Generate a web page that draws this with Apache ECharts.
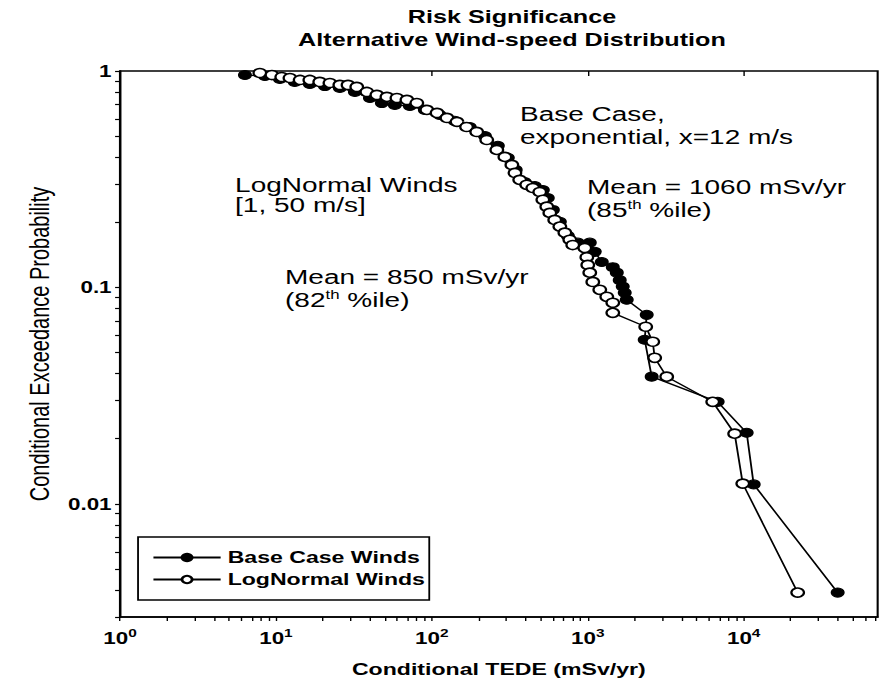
<!DOCTYPE html>
<html>
<head>
<meta charset="utf-8">
<script src="https://cdn.jsdelivr.net/npm/echarts@6/dist/echarts.min.js"></script>
<style>
  html, body { margin: 0; padding: 0; background: #fff; overflow: hidden; }
  /* the plot is laid out narrow and widened, giving the broad lettering and oval markers */
  #chart { width: 629.3px; height: 684px; transform: scaleX(1.4); transform-origin: 0 0; }
</style>
</head>
<body>
<div id="chart"></div>
<script>
// Conditional TEDE (mSv/yr) and exceedance probability, base-case exponential winds
const baseDose = [6.33, 8.5, 10.6, 13.2, 16.5, 20.6, 25.7, 32.1, 40.1, 47.8, 57.9, 72.3, 90.2, 112, 140, 175, 219, 265, 307, 345, 394, 457, 515, 554, 597, 662, 745, 863, 1030, 1109, 1230, 1447, 1535, 1603, 1676, 1726, 1778, 2388, 2318, 2570, 6808, 10450, 11590, 40060];
const baseProb = [0.958, 0.948, 0.919, 0.890, 0.871, 0.852, 0.835, 0.800, 0.750, 0.711, 0.697, 0.689, 0.661, 0.627, 0.588, 0.551, 0.501, 0.451, 0.397, 0.349, 0.307, 0.294, 0.282, 0.259, 0.228, 0.201, 0.173, 0.161, 0.161, 0.146, 0.131, 0.124, 0.117, 0.108, 0.101, 0.0944, 0.0877, 0.0747, 0.0573, 0.0387, 0.0296, 0.0213, 0.0123, 0.00389];

// Same quantities for lognormal winds on [1, 50 m/s]
const lognDose = [7.89, 9.43, 10.9, 12.3, 14.3, 16.5, 19.1, 22.2, 25.7, 29.0, 33.0, 38.3, 44.4, 51.5, 59.7, 69.2, 80.1, 92.9, 108, 125, 145, 167, 194, 225, 261, 294, 326, 341, 366, 406, 444, 492, 515, 546, 571, 614, 662, 713, 767, 801, 957, 986, 1000, 1030, 1077, 1194, 1324, 1447, 1447, 2353, 2611, 2687, 3208, 6328, 8750, 9862, 22190];
const lognProb = [0.979, 0.958, 0.938, 0.928, 0.909, 0.909, 0.890, 0.880, 0.862, 0.862, 0.844, 0.800, 0.775, 0.759, 0.750, 0.735, 0.711, 0.661, 0.640, 0.607, 0.582, 0.551, 0.523, 0.480, 0.432, 0.401, 0.368, 0.338, 0.314, 0.298, 0.288, 0.276, 0.254, 0.236, 0.221, 0.205, 0.191, 0.179, 0.166, 0.157, 0.152, 0.138, 0.127, 0.117, 0.106, 0.0975, 0.0905, 0.0849, 0.0763, 0.0658, 0.0561, 0.0473, 0.0387, 0.0296, 0.0211, 0.0124, 0.00389];

const seriesNames = ['Base Case Winds', 'LogNormal Winds'];

// Axis ticks and labels
const xMajor = [1, 10, 100, 1000, 10000];
const xExponents = ['0', '1', '2', '3', '4'];
const yMajor = [1, 0.1, 0.01];
const yLabels = ['1', '0.1', '0.01'];
const xMax = 72300;
const yMin = 0.003;

// Minor tick positions (2..9 within each decade)
const xMinor = [];
for (let d = 1; d <= 10000; d *= 10) {
  for (let k = 2; k <= 9; k++) if (k * d < xMax) xMinor.push(k * d);
}
const yMinor = [];
for (let d = 0.1; d >= 0.001; d /= 10) {
  for (let k = 9; k >= 2; k--) if (k * d >= yMin * 0.999) yMinor.push(+(k * d).toPrecision(3));
}

const FONT = 'Liberation Sans, Arial, Helvetica, sans-serif';
const pair = (xs, ys) => xs.map((x, i) => [x, ys[i]]);
const idxOf = (arr, v) => arr.findIndex(m => Math.abs(Math.log10(m) - Math.log10(v)) < 1e-6);

const chart = echarts.init(document.getElementById('chart'), null, { renderer: 'svg' });

const sup = { s: { fontSize: 12, fontFamily: FONT, verticalAlign: 'bottom', lineHeight: 12, padding: [0, 0, 9, 0] } };
const note = (text, x, y, rich) => ({
  type: 'text', x, y, z: 50,
  style: {
    text, fill: '#000', fontFamily: FONT, fontSize: 20, fontWeight: 'normal',
    align: 'left', verticalAlign: 'middle', rich: rich || {}
  }
});
const heading = (text, y) => ({
  type: 'text', x: 365.7, y, z: 50,
  style: { text, fill: '#000', fontFamily: FONT, fontSize: 18, fontWeight: 'bold', align: 'center', verticalAlign: 'middle' }
});

chart.setOption({
  animation: false,
  backgroundColor: '#fff',
  grid: {
    left: 85.7, right: 2.1, top: 71, bottom: 67,
    show: true, borderColor: '#000', borderWidth: 1.5, backgroundColor: 'transparent'
  },
  xAxis: [{
    type: 'log', logBase: 10, min: 1, max: xMax, position: 'bottom',
    axisLine: { show: true, lineStyle: { color: '#000', width: 1.5 } },
    axisTick: { show: true, customValues: xMajor.concat(xMinor), length: 4, inside: false, lineStyle: { color: '#000', width: 1 } },
    axisLabel: {
      customValues: xMajor, margin: 13,
      formatter: v => {
        const i = idxOf(xMajor, v);
        return i < 0 ? '' : '10{s|' + xExponents[i] + '}';
      },
      color: '#000', fontFamily: FONT, fontWeight: 'bold', fontSize: 16,
      rich: { s: { fontSize: 11, fontWeight: 'bold', fontFamily: FONT, verticalAlign: 'bottom', lineHeight: 11, padding: [0, 0, 7, 0] } }
    },
    splitLine: { show: false },
    name: 'Conditional TEDE (mSv/yr)', nameLocation: 'middle', nameGap: 44,
    nameTextStyle: { color: '#000', fontFamily: FONT, fontWeight: 'bold', fontSize: 16.5 }
  }, {
    type: 'log', logBase: 10, min: 1, max: xMax, position: 'top',
    axisLine: { show: false },
    axisTick: { show: true, customValues: xMajor.slice(1), length: 5, inside: true, lineStyle: { color: '#000', width: 1 } },
    axisLabel: { show: false }, splitLine: { show: false }
  }],
  yAxis: [{
    type: 'log', logBase: 10, min: yMin, max: 1, position: 'left',
    axisLine: { show: true, lineStyle: { color: '#000', width: 1.5 } },
    axisTick: { show: true, customValues: yMajor.concat(yMinor), length: 3.5, inside: false, lineStyle: { color: '#000', width: 1.2 } },
    axisLabel: {
      customValues: yMajor, margin: 6,
      formatter: v => {
        const i = idxOf(yMajor, v);
        return i < 0 ? '' : yLabels[i];
      },
      color: '#000', fontFamily: FONT, fontWeight: 'bold', fontSize: 16
    },
    splitLine: { show: false },
    name: 'Conditional Exceedance Probability', nameLocation: 'middle', nameGap: 43, nameRotate: 90,
    nameTextStyle: { color: '#000', fontFamily: FONT, fontSize: 20 }
  }],
  legend: {
    orient: 'vertical', left: 98.6, top: 537,
    data: seriesNames,
    backgroundColor: '#fff', borderColor: '#000', borderWidth: 1.3,
    padding: [12, 3, 12, 10], itemGap: 5, itemWidth: 48, itemHeight: 9,
    textStyle: { color: '#000', fontFamily: FONT, fontSize: 16.5, fontWeight: 'bold' }
  },
  graphic: [
    heading('Risk Significance', 17),
    heading('Alternative Wind-speed Distribution', 40),
    note('Base Case,', 371.4, 114),
    note('exponential, x=12 m/s', 371.4, 137),
    note('Mean = 1060 mSv/yr', 419.3, 187),
    note('(85{s|th} %ile)', 419.3, 210, sup),
    note('LogNormal Winds', 167.9, 185),
    note('[1, 50 m/s]', 167.9, 205),
    note('Mean = 850 mSv/yr', 203.6, 277),
    note('(82{s|th} %ile)', 203.6, 300, sup)
  ],
  series: [{
    name: seriesNames[0], type: 'line', data: pair(baseDose, baseProb),
    symbol: 'circle', symbolSize: 9, z: 2,
    lineStyle: { color: '#000', width: 1.3 },
    itemStyle: { color: '#000', borderColor: '#000', borderWidth: 1 }
  }, {
    name: seriesNames[1], type: 'line', data: pair(lognDose, lognProb),
    symbol: 'circle', symbolSize: 9, z: 3,
    lineStyle: { color: '#000', width: 1.3 },
    itemStyle: { color: '#fff', borderColor: '#000', borderWidth: 1.6 }
  }]
});
</script>
</body>
</html>
